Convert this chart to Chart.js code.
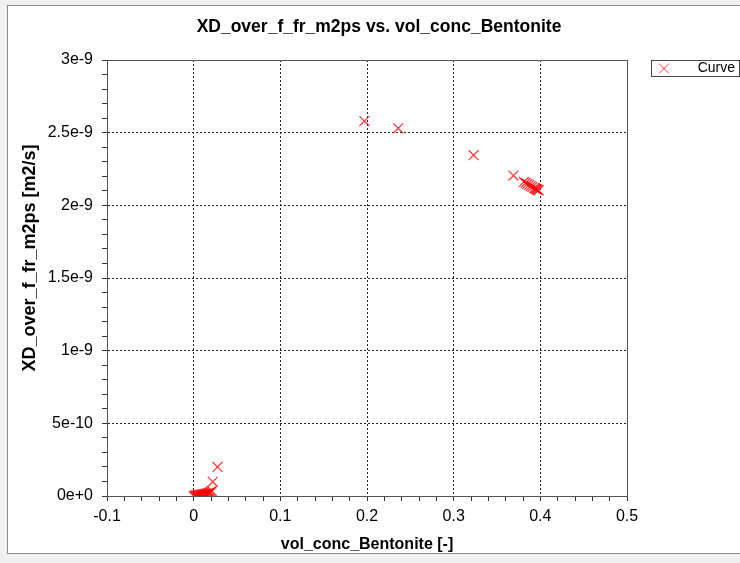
<!DOCTYPE html>
<html>
<head>
<meta charset="utf-8">
<script src="https://cdn.jsdelivr.net/npm/chart.js@4.4.1/dist/chart.umd.min.js"></script>
<style>
  html, body { margin: 0; padding: 0; background: #f0f0f0; }
  #panel { position: absolute; left: 7px; top: 5px; width: 740px; height: 549px;
           background: #fff; border: 1px solid #8a8a8a; box-sizing: border-box; }
  #wrap { position: absolute; left: 0; top: 0; width: 740px; height: 563px; }
</style>
</head>
<body>
<div id="panel"></div>
<div id="wrap"><canvas id="chart" width="740" height="563"></canvas></div>
<script>
const chartTitle = "XD_over_f_fr_m2ps vs. vol_conc_Bentonite";
const xTitle = "vol_conc_Bentonite [-]";
const yTitle = "XD_over_f_fr_m2ps [m2/s]";
const seriesLabel = "Curve";

// vol_conc_Bentonite
const xValues = [
  0.000, 0.001, 0.002, 0.003, 0.004, 0.005, 0.006, 0.007, 0.008, 0.009,
  0.010, 0.011, 0.012, 0.013, 0.014, 0.015, 0.016, 0.017, 0.018, 0.019,
  0.020, 0.021, 0.022, 0.0275,
  0.197, 0.236, 0.323, 0.369,
  0.381, 0.383, 0.385, 0.387, 0.389, 0.391, 0.393, 0.394, 0.395, 0.396, 0.397, 0.398
];
// XD_over_f_fr_m2ps [m2/s]
const yValues = [
  0.0e-9, 0.0e-9, 0.002e-9, 0.003e-9, 0.004e-9, 0.005e-9, 0.006e-9, 0.007e-9, 0.008e-9, 0.009e-9,
  0.010e-9, 0.011e-9, 0.012e-9, 0.013e-9, 0.014e-9, 0.015e-9, 0.017e-9, 0.019e-9, 0.021e-9, 0.024e-9,
  0.028e-9, 0.035e-9, 0.098e-9, 0.200e-9,
  2.580e-9, 2.530e-9, 2.345e-9, 2.205e-9,
  2.161e-9, 2.154e-9, 2.147e-9, 2.140e-9, 2.133e-9, 2.127e-9, 2.120e-9, 2.116e-9, 2.113e-9, 2.110e-9, 2.106e-9, 2.103e-9
];

const xMin = -0.1, xMax = 0.5, xMinor = 0.02, xMajor = 0.1;
const yMin = 0, yMax = 3e-9, yMinor = 1e-10, yMajor = 5e-10;

const points = xValues.map((x, i) => ({x: x, y: yValues[i]}));

function isMajor(v, step) {
  const r = v / step;
  return Math.abs(r - Math.round(r)) < 1e-6;
}

const markerColor = "rgba(255,0,0,0.8)";
const font = "'Liberation Sans', Arial, sans-serif";

// plot frame, rotated y title and legend box
const framePlugin = {
  id: "frame",
  afterDraw(chart) {
    const {ctx, chartArea: a} = chart;
    ctx.save();
    ctx.strokeStyle = "#555";
    ctx.lineWidth = 1;
    ctx.strokeRect(Math.round(a.left) + 0.5, Math.round(a.top) + 0.5,
                   Math.round(a.right - a.left), Math.round(a.bottom - a.top));

    // y axis title
    ctx.save();
    ctx.translate(30, 258);
    ctx.rotate(-Math.PI / 2);
    ctx.fillStyle = "#000";
    ctx.font = "bold 18px " + font;
    ctx.textAlign = "center";
    ctx.textBaseline = "middle";
    ctx.fillText(yTitle, 0, 0);
    ctx.restore();

    // legend
    const lx = 651.5, ly = 60.5, lw = 88, lh = 16;
    ctx.fillStyle = "#fff";
    ctx.fillRect(lx, ly, lw, lh);
    ctx.strokeStyle = "#444";
    ctx.strokeRect(lx, ly, lw, lh);
    ctx.strokeStyle = markerColor;
    Chart.helpers.drawPoint(ctx, {
      pointStyle: "crossRot", radius: 7, borderWidth: 1, rotation: 0
    }, 664, 68.5);
    ctx.fillStyle = "#000";
    ctx.font = "14px " + font;
    ctx.textAlign = "right";
    ctx.textBaseline = "middle";
    ctx.fillText(chart.data.datasets[0].label, 735, 68.5);
    ctx.restore();
  }
};

new Chart(document.getElementById("chart"), {
  type: "scatter",
  data: {
    datasets: [{
      label: seriesLabel,
      data: points,
      pointStyle: "crossRot",
      pointRadius: 7,
      pointHoverRadius: 7,
      pointBorderWidth: 1.2,
      borderColor: markerColor,
      backgroundColor: markerColor,
      showLine: false
    }]
  },
  options: {
    responsive: false,
    animation: false,
    events: [],
    layout: { padding: { left: 18, right: 0, top: 0, bottom: 0 } },
    plugins: {
      legend: { display: false },
      tooltip: { enabled: false },
      title: {
        display: true,
        text: chartTitle,
        color: "#000",
        font: { family: font, size: 17.5, weight: "bold" },
        padding: { top: 17, bottom: 22 }
      }
    },
    scales: {
      x: {
        type: "linear",
        min: xMin, max: xMax,
        afterFit(scale) { scale.height = 67; },
        ticks: {
          stepSize: xMinor,
          autoSkip: false,
          maxRotation: 0,
          padding: 6,
          color: "#000",
          font: { family: font, size: 16 },
          callback: v => isMajor(v, xMajor) ? String(Math.round(v * 10) / 10) : ""
        },
        grid: {
          color: c => (c.tick && isMajor(c.tick.value, xMajor) &&
                       c.tick.value > xMin + 1e-9 && c.tick.value < xMax - 1e-9) ? "#222" : "rgba(0,0,0,0)",
          tickColor: "#333",
          tickLength: 5,
          lineWidth: 1
        },
        border: { display: true, color: "#333", dash: [2, 2] },
        title: {
          display: true,
          text: xTitle,
          color: "#000",
          font: { family: font, size: 16, weight: "bold" },
          padding: { top: 0, bottom: 9 }
        }
      },
      y: {
        type: "linear",
        min: yMin, max: yMax,
        afterFit(scale) { scale.width = 89; },
        ticks: {
          stepSize: yMinor,
          autoSkip: false,
          padding: 9,
          color: "#000",
          font: { family: font, size: 16 },
          callback: v => isMajor(v, yMajor) ? parseFloat(v.toPrecision(4)).toExponential() : ""
        },
        grid: {
          color: c => (c.tick && isMajor(c.tick.value, yMajor) &&
                       c.tick.value > yMin + 1e-20 && c.tick.value < yMax - 1e-20) ? "#222" : "rgba(0,0,0,0)",
          tickColor: "#333",
          tickLength: 5,
          lineWidth: 1
        },
        border: { display: true, color: "#333", dash: [2, 2] },
        title: { display: false }
      },
      // empty right-hand band that holds the legend column
      yRight: {
        type: "linear",
        position: "right",
        min: 0, max: 1,
        afterFit(scale) { scale.width = 113; },
        ticks: { display: false },
        grid: { display: false },
        border: { display: false }
      }
    }
  },
  plugins: [framePlugin]
});
</script>
</body>
</html>
